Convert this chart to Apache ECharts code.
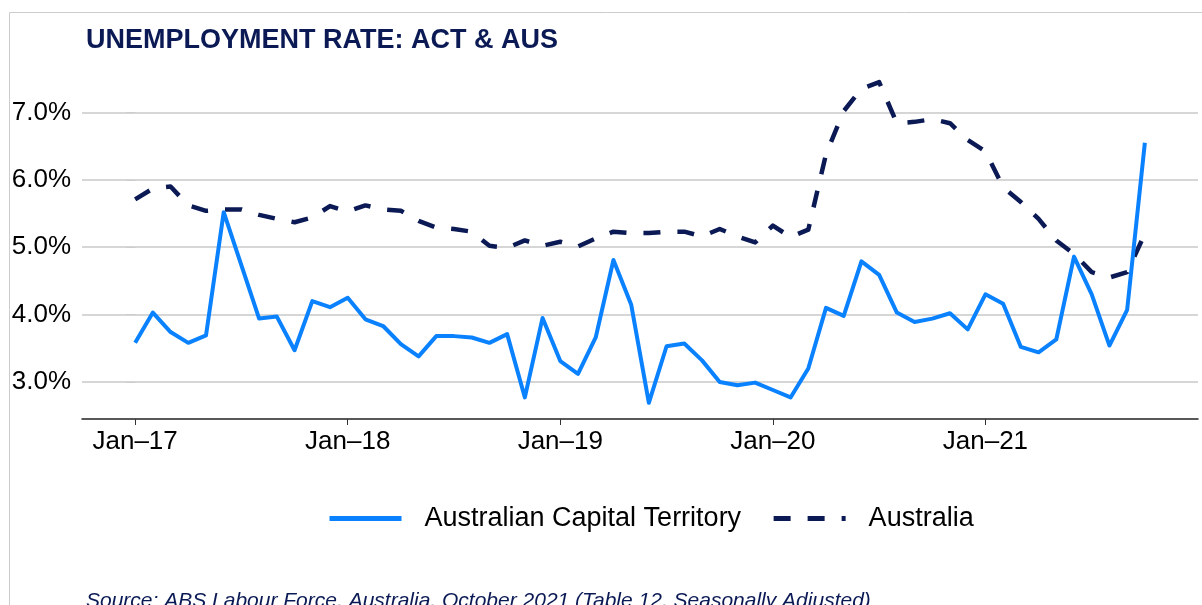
<!DOCTYPE html>
<html>
<head>
<meta charset="utf-8">
<title>Unemployment rate: ACT &amp; AUS</title>
<script src="https://cdn.jsdelivr.net/npm/echarts@6/dist/echarts.min.js"></script>
<style>
  html, body { margin: 0; padding: 0; background: #fff; }
  #chart { width: 1202px; height: 605px; }
</style>
</head>
<body>
<div id="chart"></div>
<script>
// monthly, Jan-17 .. Oct-21
var months = [
  'Jan-17','Feb-17','Mar-17','Apr-17','May-17','Jun-17','Jul-17','Aug-17','Sep-17','Oct-17','Nov-17','Dec-17',
  'Jan-18','Feb-18','Mar-18','Apr-18','May-18','Jun-18','Jul-18','Aug-18','Sep-18','Oct-18','Nov-18','Dec-18',
  'Jan-19','Feb-19','Mar-19','Apr-19','May-19','Jun-19','Jul-19','Aug-19','Sep-19','Oct-19','Nov-19','Dec-19',
  'Jan-20','Feb-20','Mar-20','Apr-20','May-20','Jun-20','Jul-20','Aug-20','Sep-20','Oct-20','Nov-20','Dec-20',
  'Jan-21','Feb-21','Mar-21','Apr-21','May-21','Jun-21','Jul-21','Aug-21','Sep-21','Oct-21'
];
var act = [
  3.58, 4.03, 3.74, 3.58, 3.69, 5.52, 4.73, 3.94, 3.97, 3.47, 4.20, 4.11,
  4.25, 3.93, 3.83, 3.56, 3.38, 3.68, 3.68, 3.66, 3.58, 3.71, 2.77, 3.95,
  3.31, 3.12, 3.66, 4.81, 4.15, 2.69, 3.53, 3.57, 3.32, 3.00, 2.95, 2.99,
  2.88, 2.77, 3.20, 4.10, 3.98, 4.79, 4.59, 4.03, 3.89, 3.94, 4.02, 3.78,
  4.30, 4.16, 3.52, 3.44, 3.63, 4.86, 4.30, 3.54, 4.07, 6.55
];
var aus = [
  5.71, 5.87, 5.90, 5.62, 5.54, 5.56, 5.56, 5.48, 5.42, 5.37, 5.44, 5.61,
  5.53, 5.62, 5.56, 5.54, 5.39, 5.29, 5.27, 5.23, 5.02, 4.99, 5.10, 5.02,
  5.08, 5.01, 5.13, 5.23, 5.21, 5.21, 5.23, 5.23, 5.16, 5.27, 5.16, 5.07,
  5.32, 5.15, 5.26, 6.38, 7.02, 7.35, 7.45, 6.84, 6.86, 6.90, 6.84, 6.59,
  6.42, 5.89, 5.67, 5.42, 5.10, 4.90, 4.63, 4.55, 4.63, 5.20
];
var xTickPos = [0, 12, 24, 36, 48];
var xTickLabels = ['Jan\u201317', 'Jan\u201318', 'Jan\u201319', 'Jan\u201320', 'Jan\u201321'];
var yTicks = [3, 4, 5, 6, 7];

var font = '"Liberation Sans", Arial, sans-serif';
var navy = '#0b1a55';

function pairs(arr) {
  return arr.map(function (v, i) { return [i, v]; });
}

var myChart = echarts.init(document.getElementById('chart'));

var option = {
  animation: false,
  backgroundColor: '#fff',
  title: [
    {
      text: 'UNEMPLOYMENT RATE: ACT & AUS',
      left: 81,
      top: 22,
      textStyle: { fontFamily: font, fontSize: 27, fontWeight: 'bold', color: navy }
    },
    {
      text: 'Source: ABS Labour Force, Australia, October 2021 (Table 12, Seasonally Adjusted)',
      left: 81,
      top: 586,
      textStyle: { fontFamily: font, fontSize: 21, fontStyle: 'italic', fontWeight: 'normal', color: navy }
    }
  ],
  graphic: [
    {
      type: 'rect',
      shape: { x: 9.5, y: 12.5, width: 1300, height: 700 },
      style: { fill: 'none', stroke: '#cccccc', lineWidth: 1 },
      silent: true
    }
  ],
  legend: {
    left: 322,
    top: 500,
    itemWidth: 72,
    itemHeight: 14,
    itemGap: 30,
    itemStyle: { opacity: 0 },
    lineStyle: { width: 5 },
    textStyle: { fontFamily: font, fontSize: 27, color: '#000', padding: [0, 0, 0, 18] },
    data: ['Australian Capital Territory', 'Australia']
  },
  grid: { left: 82, right: 4, top: 72, bottom: 186 },
  xAxis: {
    type: 'value',
    min: -3,
    max: 60,
    axisLine: { show: true, onZero: false, lineStyle: { color: '#222', width: 1.5 } },
    axisTick: { show: true, customValues: xTickPos, length: 6, lineStyle: { color: '#333', width: 1 } },
    axisLabel: {
      customValues: xTickPos,
      margin: 10,
      fontFamily: font,
      fontSize: 26,
      color: '#000',
      formatter: function (v) { return xTickLabels[xTickPos.indexOf(v)] || ''; }
    },
    splitLine: { show: false }
  },
  yAxis: {
    type: 'value',
    min: 2.45,
    max: 7.6,
    axisLine: { show: false },
    axisTick: { show: true, customValues: yTicks, length: 9, lineStyle: { color: '#cccccc' } },
    axisLabel: {
      customValues: yTicks,
      margin: 11,
      fontFamily: font,
      fontSize: 26,
      color: '#000',
      formatter: function (v) { return v.toFixed(1) + '%'; }
    },
    splitLine: { show: true, lineStyle: { color: '#c8c8c8', width: 1.5 } }
  },
  series: [
    {
      name: 'Australian Capital Territory',
      type: 'line',
      data: pairs(act),
      symbol: 'none',
      z: 3,
      lineStyle: { color: '#0a82ff', width: 4, join: 'round' },
      itemStyle: { color: '#0a82ff' }
    },
    {
      name: 'Australia',
      type: 'line',
      data: pairs(aus),
      symbol: 'none',
      z: 2,
      lineStyle: { color: navy, width: 4.5, type: [17, 17], cap: 'butt', join: 'round' },
      itemStyle: { color: navy }
    }
  ]
};

myChart.setOption(option);
</script>
</body>
</html>
